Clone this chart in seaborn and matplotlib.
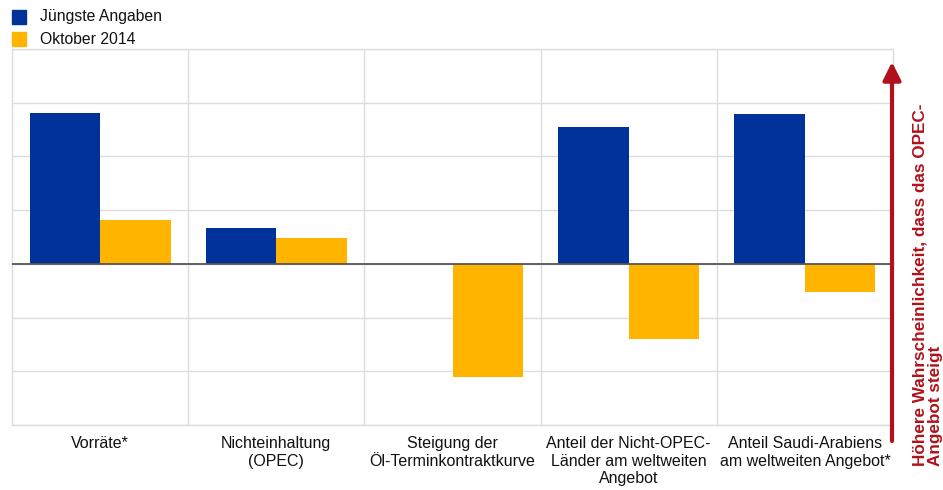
import matplotlib
matplotlib.use("Agg")
import matplotlib.pyplot as plt
import seaborn as sns
import pandas as pd

categories = [
    "Vorräte*",
    "Nichteinhaltung\n(OPEC)",
    "Steigung der\nÖl-Terminkontraktkurve",
    "Anteil der Nicht-OPEC-\nLänder am weltweiten\nAngebot",
    "Anteil Saudi-Arabiens\nam weltweiten Angebot*",
]
series_names = ["Jüngste Angaben", "Oktober 2014"]
latest = [2.81, 0.67, 0.0, 2.55, 2.79]
oct_2014 = [0.82, 0.48, -2.10, -1.39, -0.53]
colors = ["#003299", "#FFB400"]

df = pd.DataFrame({
    "Kategorie": categories * 2,
    "Wert": latest + oct_2014,
    "Reihe": [series_names[0]] * len(categories) + [series_names[1]] * len(categories),
})

sns.set_theme(style="white")
plt.rcParams["font.family"] = ["Liberation Sans", "DejaVu Sans"]

fig = plt.figure(figsize=(9.43, 4.90), dpi=100)
ax = fig.add_axes([12 / 943, 1 - 425 / 490, (893 - 12) / 943, (425 - 49) / 490])

sns.barplot(data=df, x="Kategorie", y="Wert", hue="Reihe", palette=colors,
            width=0.8, dodge=True, ax=ax, legend=False, saturation=1,
            edgecolor="none", linewidth=0)

ax.set_ylim(-3, 4)
ax.set_xlim(-0.5, len(categories) - 0.5)
ax.set_yticks(range(-3, 5))
ax.set_yticklabels([])
ax.tick_params(axis="y", length=0)
ax.set_xticks([i + 0.5 for i in range(len(categories) - 1)], minor=True)
ax.grid(True, axis="y", color="#dcdcdc", lw=1)
ax.grid(True, axis="x", which="minor", color="#dcdcdc", lw=1)
ax.set_axisbelow(True)
ax.axhline(0, color="#555555", lw=1.3, zorder=3)
for s in ax.spines.values():
    s.set_color("#dcdcdc")
    s.set_linewidth(1)
ax.set_xlabel("")
ax.set_ylabel("")
ax.tick_params(axis="x", which="both", length=0, labelsize=11.5, pad=8, colors="#111111")
ax.set_xticks(range(len(categories)))
ax.set_xticklabels(categories, linespacing=1.22)

# Legend at top left
for i, (name, c) in enumerate(zip(series_names, colors)):
    yc = 1 - (17 + 22 * i) / 490
    fig.patches.append(plt.Rectangle((12 / 943, yc - 7 / 490), 14 / 943, 14 / 490,
                                     transform=fig.transFigure, color=c, figure=fig))
    fig.text(40 / 943, yc, name, fontsize=11.3, va="center", ha="left", color="#111111")

# Red arrow on the right
red = "#B0121B"
ax.annotate("", xy=(892 / 943, 1 - 62 / 490), xytext=(892 / 943, 1 - 441 / 490),
            xycoords="figure fraction", textcoords="figure fraction",
            arrowprops=dict(arrowstyle="-|>,head_length=0.9,head_width=0.45",
                            color=red, lw=3, shrinkA=0, shrinkB=0))
fig.text(928 / 943, 1 - 466 / 490, "Höhere Wahrscheinlichkeit, dass das OPEC-\nAngebot steigt",
         rotation=90, ha="center", va="bottom", multialignment="left",
         fontsize=12.3, fontweight="bold", color=red, linespacing=1.05)

fig.savefig("out.png", dpi=100)
